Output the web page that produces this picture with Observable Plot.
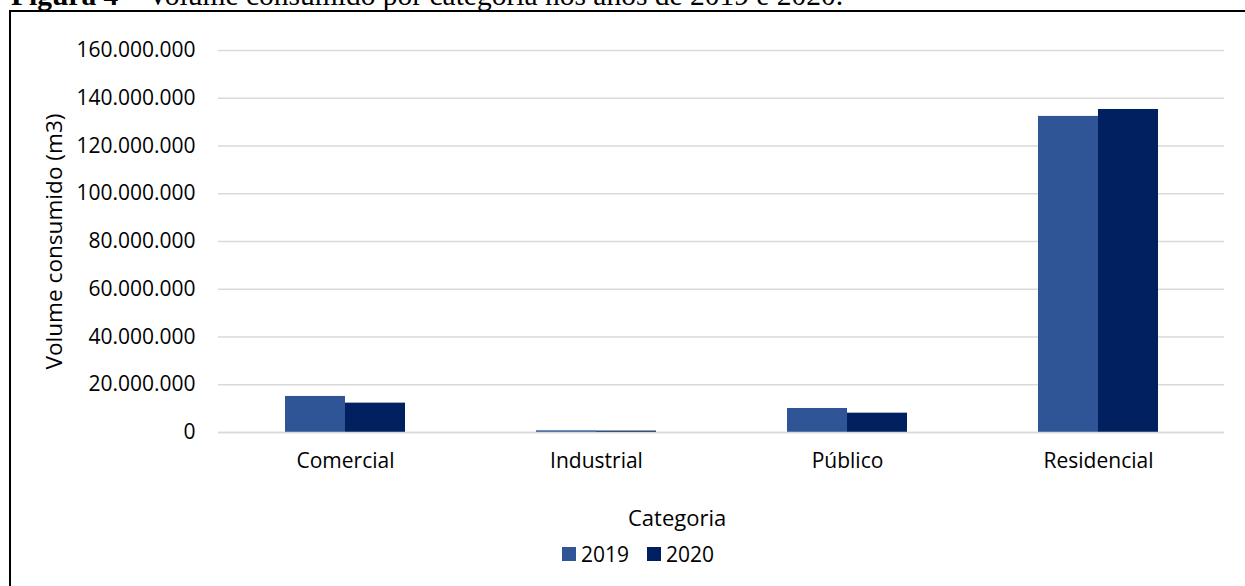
<!DOCTYPE html>
<html>
<head>
<meta charset="utf-8">
<script src="https://cdn.jsdelivr.net/npm/d3@7"></script>
<script src="https://cdn.jsdelivr.net/npm/@observablehq/plot@0.6"></script>
<style>
  html, body { margin: 0; padding: 0; background: #fff; }
  #wrap { position: relative; width: 1245px; height: 586px; overflow: hidden; background: #fff; }
  #caption { position: absolute; left: 11px; top: -19px; font-family: "Liberation Serif", "Times New Roman", serif; font-size: 29.5px; line-height: 1; white-space: nowrap; color: #000; }
  #frame { position: absolute; left: 9px; top: 10px; width: 1400px; height: 800px; border: 2px solid #000; box-sizing: border-box; }
  #chart { position: absolute; left: 0; top: 0; }
  #xlabel { position: absolute; left: 628px; top: 502px; font-family: "Open Sans", sans-serif; font-size: 22px; color: #000; white-space: nowrap; }
  #legend { position: absolute; left: 562px; top: 540px; font-family: "Open Sans", sans-serif; font-size: 21px; color: #000; display: flex; align-items: center; white-space: nowrap; }
  .sw { display: inline-block; width: 14px; height: 14px; margin-right: 5px; }
  .item { display: flex; align-items: center; margin-right: 18px; }
</style>
</head>
<body>
<div id="wrap">
  <div id="caption"><b>Figura 4</b> – Volume consumido por categoria nos anos de 2019 e 2020.</div>
  <div id="frame"></div>
  <div id="chart"></div>
  <div id="xlabel">Categoria</div>
  <div id="legend"></div>
</div>
<script>
const categories = ["Comercial", "Industrial", "Público", "Residencial"];
const years = ["2019", "2020"];
const values2019 = [15100000, 700000, 10050000, 132400000];
const values2020 = [12300000, 600000, 8100000, 135300000];
const yTicks = [0, 20000000, 40000000, 60000000, 80000000, 100000000, 120000000, 140000000, 160000000];
const colors = ["#2F5597", "#002060"];

const fmt = d3.formatLocale({decimal: ",", thousands: ".", grouping: [3], currency: ["", ""]}).format(",.0f");

const rows2019 = categories.map((c, i) => ({category: c, year: years[0], value: values2019[i]}));
const rows2020 = categories.map((c, i) => ({category: c, year: years[1], value: values2020[i]}));

const W = 1245, H = 586;
const chart = Plot.plot({
  width: W,
  height: H,
  marginLeft: 218,
  marginRight: 21,
  marginTop: 50,
  marginBottom: 154,
  style: {fontFamily: "Open Sans, sans-serif", fontSize: "21px", color: "#000", background: "transparent"},
  x: {domain: categories, paddingInner: 0.523, paddingOuter: 0.2615, tickSize: 0, tickPadding: 21, label: null},
  y: {domain: [0, 160000000], ticks: yTicks, tickFormat: fmt, tickSize: 0, tickPadding: 23,
      label: "Volume consumido (m3)", labelArrow: "none", labelAnchor: "center", labelOffset: 173},
  marks: [
    Plot.ruleY(yTicks, {stroke: "#d9d9d9", strokeWidth: 1.5}),
    Plot.barY(rows2019, {x: "category", y: "value", fill: colors[0], insetRight: 60}),
    Plot.barY(rows2020, {x: "category", y: "value", fill: colors[1], insetLeft: 60}),
    Plot.ruleY([0], {stroke: "#d9d9d9", strokeWidth: 1.5})
  ]
});
d3.select(chart).selectAll("g[aria-label='y-axis label'] text").attr("font-size", "22.6px");
document.getElementById("chart").appendChild(chart);

const legend = document.getElementById("legend");
years.forEach((y, i) => {
  const item = document.createElement("span");
  item.className = "item";
  const sw = document.createElement("span");
  sw.className = "sw";
  sw.style.background = colors[i];
  item.appendChild(sw);
  item.appendChild(document.createTextNode(y));
  legend.appendChild(item);
});
</script>
</body>
</html>
